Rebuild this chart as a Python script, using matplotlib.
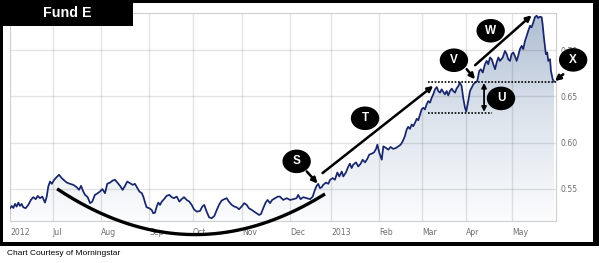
import numpy as np
import matplotlib
matplotlib.use("Agg")
from matplotlib import pyplot as plt
from matplotlib.patches import Ellipse, Rectangle
from matplotlib.colors import LinearSegmentedColormap

# fund price, x = trading-day index since early June 2012
days = [0.0, 0.8, 1.5, 2.3, 3.0, 3.8, 4.5, 5.3, 6.0, 7.1, 8.3, 9.5, 10.6, 11.7, 12.6,
        13.6, 14.7, 15.9, 16.7, 17.4, 18.2, 19.0, 20.1, 21.2, 22.3, 23.5, 24.7, 25.8,
        27.3, 28.8, 30.3, 31.4, 32.3, 33.3, 34.1, 35.3, 36.4, 37.4, 38.6, 39.9, 40.9,
        42.0, 43.2, 44.2, 45.5, 46.7, 47.7, 48.8, 50.0, 51.2, 52.3, 53.3, 54.5, 55.8,
        56.8, 57.9, 58.8, 59.9, 60.6, 61.4, 62.1, 63.3, 64.4, 65.1, 65.9, 66.7, 67.4,
        68.2, 69.0, 70.0, 71.2, 72.4, 73.5, 74.5, 75.8, 77.0, 78.0, 79.1, 80.3, 81.5,
        82.6, 83.6, 84.9, 86.4, 87.4, 88.3, 89.4, 90.5, 91.7, 92.9, 94.0, 95.0, 96.2,
        97.4, 98.5, 99.5, 100.8, 102.0, 103.0, 104.1, 105.3, 106.5, 107.6, 108.6, 109.9,
        111.0, 112.1, 113.2, 114.1, 115.1, 116.2, 117.1, 118.2, 119.2, 120.5, 121.7,
        122.7, 124.2, 125.8, 127.3, 128.8, 130.3, 131.0, 132.1, 133.3, 134.9, 136.4,
        137.6, 138.6, 139.4, 140.1, 140.9, 141.7, 142.4, 143.6, 144.7, 145.5, 146.7,
        147.7, 148.8, 149.7, 150.8, 151.5, 152.7, 153.8, 154.5, 155.3, 156.0, 157.3,
        158.3, 159.4, 160.3, 161.4, 162.4, 163.3, 164.4, 165.5, 166.4, 167.0, 167.9,
        169.0, 169.7, 170.9, 172.0, 173.0, 174.2, 175.5, 176.5, 177.6, 178.5, 179.5,
        180.3, 181.0, 181.8, 182.6, 183.3, 184.1, 184.9, 185.6, 186.4, 187.1, 187.9,
        188.6, 189.4, 190.1, 190.9, 191.7, 192.4, 193.2, 194.0, 194.7, 195.5, 196.2,
        197.0, 197.7, 198.5, 199.2, 200.0, 200.8, 201.5, 202.3, 203.0, 203.8, 204.5,
        205.3, 206.0, 206.8, 207.4, 208.3, 209.1, 209.9, 210.6, 211.4, 212.4, 213.3,
        214.0, 214.9, 215.9, 216.7, 217.4, 218.2, 219.0, 219.7, 220.5, 221.2, 222.0,
        222.7, 224.0, 225.0, 225.8, 226.5, 227.3, 228.0, 228.8, 229.5, 230.3, 231.0,
        231.8, 232.6, 233.3, 234.1, 234.9, 235.6, 236.4, 237.1, 237.9, 238.6, 239.4,
        240.1, 240.9, 241.7, 242.1, 242.7, 243.6, 244.2, 244.7, 245.5, 245.9, 246.7,
        247.3]
nav = [0.5290, 0.5315, 0.5293, 0.5337, 0.5308, 0.5351, 0.5315, 0.5337, 0.5301, 0.5290,
       0.5326, 0.5380, 0.5410, 0.5388, 0.5424, 0.5399, 0.5416, 0.5351, 0.5416, 0.5525,
       0.5579, 0.5554, 0.5598, 0.5627, 0.5652, 0.5616, 0.5590, 0.5568, 0.5554, 0.5543,
       0.5518, 0.5489, 0.5533, 0.5471, 0.5435, 0.5410, 0.5345, 0.5362, 0.5435, 0.5453,
       0.5471, 0.5497, 0.5453, 0.5554, 0.5568, 0.5590, 0.5598, 0.5568, 0.5533, 0.5489,
       0.5533, 0.5579, 0.5562, 0.5543, 0.5554, 0.5508, 0.5471, 0.5453, 0.5416, 0.5351,
       0.5301, 0.5290, 0.5272, 0.5236, 0.5242, 0.5308, 0.5351, 0.5326, 0.5362, 0.5388,
       0.5424, 0.5435, 0.5410, 0.5399, 0.5416, 0.5362, 0.5388, 0.5410, 0.5380, 0.5362,
       0.5326, 0.5279, 0.5253, 0.5261, 0.5308, 0.5326, 0.5253, 0.5192, 0.5182, 0.5207,
       0.5272, 0.5326, 0.5373, 0.5388, 0.5399, 0.5362, 0.5326, 0.5308, 0.5301, 0.5279,
       0.5308, 0.5345, 0.5326, 0.5290, 0.5272, 0.5253, 0.5236, 0.5217, 0.5228, 0.5290,
       0.5351, 0.5380, 0.5345, 0.5380, 0.5399, 0.5416, 0.5416, 0.5380, 0.5399, 0.5380,
       0.5388, 0.5399, 0.5435, 0.5388, 0.5410, 0.5399, 0.5388, 0.5416, 0.5489, 0.5533,
       0.5554, 0.5508, 0.5518, 0.5543, 0.5568, 0.5554, 0.5598, 0.5616, 0.5598, 0.5677,
       0.5634, 0.5688, 0.5634, 0.5677, 0.5742, 0.5772, 0.5725, 0.5761, 0.5786, 0.5742,
       0.5772, 0.5815, 0.5786, 0.5823, 0.5870, 0.5880, 0.5895, 0.5932, 0.5978, 0.5888,
       0.5815, 0.5960, 0.5942, 0.5924, 0.5953, 0.5932, 0.5942, 0.5960, 0.5978, 0.6014,
       0.6069, 0.6141, 0.6171, 0.6149, 0.6196, 0.6177, 0.6214, 0.6258, 0.6242, 0.6304,
       0.6359, 0.6377, 0.6359, 0.6413, 0.6449, 0.6432, 0.6486, 0.6522, 0.6576, 0.6601,
       0.6558, 0.6540, 0.6576, 0.6547, 0.6522, 0.6558, 0.6511, 0.6558, 0.6584, 0.6558,
       0.6540, 0.6584, 0.6612, 0.6649, 0.6612, 0.6486, 0.6380, 0.6337, 0.6449, 0.6558,
       0.6595, 0.6630, 0.6649, 0.6666, 0.6775, 0.6794, 0.6758, 0.6848, 0.6884, 0.6848,
       0.6921, 0.6902, 0.6848, 0.6794, 0.6866, 0.6921, 0.6884, 0.6921, 0.6992, 0.6957,
       0.6902, 0.6884, 0.6957, 0.6975, 0.6938, 0.6884, 0.6938, 0.7011, 0.7047, 0.7011,
       0.7101, 0.7156, 0.7210, 0.7264, 0.7247, 0.7301, 0.7356, 0.7373, 0.7348, 0.7362,
       0.7356, 0.7283, 0.7138, 0.6957, 0.6975, 0.6884, 0.6902, 0.6775, 0.6685, 0.6660]

month_pos = [0, 19.5, 41.4, 63.2, 83.2, 105.5, 127.3, 146.0, 167.7, 187.3, 207.3, 228.2]
month_labels = ["2012", "Jul", "Aug", "Sep", "Oct", "Nov", "Dec", "2013", "Feb", "Mar", "Apr", "May"]
y_ticks = [0.55, 0.60, 0.65, 0.70]
y_labels = ["0.55", "0.60", "0.65", "0.70"]

# annotation bubbles: letter, x, y
bubbles = [("S", 130.3, 0.5797), ("T", 161.4, 0.6263), ("U", 223.2, 0.6478),
           ("V", 201.8, 0.6891), ("W", 218.5, 0.7210), ("X", 256.0, 0.6895)]
# arrows: (x_from, y_from, x_to, y_to)
arrows = [(134.9, 0.5688, 139.8, 0.5557),
          (142.1, 0.5671, 192.4, 0.6614),
          (207.6, 0.6794, 211.4, 0.6685),
          (211.4, 0.6837, 237.1, 0.7377),
          (251.5, 0.6739, 247.7, 0.6666)]
range_top, range_bottom = 0.6658, 0.6321
range_start, range_bottom_end = 190.1, 219.0
u_x = 215.5
# the "rounded bottom" curve: left end, lowest point, right end
bowl = [(21.4, 0.5500), (84.1, 0.5005), (143.2, 0.5446)]

XMIN, XMAX = 0, 248.2
YMIN, YMAX = 0.5152, 0.7402
W, H = 599, 263

fig = plt.figure(figsize=(W / 100, H / 100), dpi=100)
fig.patch.set_facecolor("white")
ax = fig.add_axes([10 / W, 1 - 221 / H, 546 / W, 208 / H])
ax.set_xlim(XMIN, XMAX)
ax.set_ylim(YMIN, YMAX)

# gradient area under the line
cmap = LinearSegmentedColormap.from_list("fade", ["#fbfcfd", "#dde4ed", "#aebdd2"])
grad = np.linspace(0, 1, 256)[:, None]
im = ax.imshow(grad, extent=[XMIN, XMAX, YMIN, YMAX], origin="lower", aspect="auto",
               cmap=cmap, zorder=1)
poly = ax.fill_between(days, nav, YMIN, facecolor="none", edgecolor="none")
im.set_clip_path(poly.get_paths()[0], transform=ax.transData)
ax.set_xlim(XMIN, XMAX)
ax.set_ylim(YMIN, YMAX)

# grid
for p in month_pos[1:]:
    ax.axvline(p, color=(0, 0, 0, 0.11), lw=1, zorder=2)
for t in y_ticks:
    ax.axhline(t, color=(0, 0, 0, 0.11), lw=1, zorder=2)

ax.plot(days, nav, color="#17256b", lw=1.25, zorder=3)

for s in ax.spines.values():
    s.set_color("#cfcfcf")
ax.set_xticks(month_pos)
ax.set_xticklabels(month_labels, ha="left")
ax.set_yticks(y_ticks)
ax.set_yticklabels(y_labels)
ax.yaxis.tick_right()
ax.tick_params(axis="both", length=0, labelsize=5.6, labelcolor="#6f6f6f")
ax.tick_params(axis="x", pad=5)
ax.tick_params(axis="y", pad=3)

# bowl curve
(xl, yl), (xv, yv), (xr, yr) = bowl
a = (yl - yv) / (xl - xv) ** 2
bx = np.linspace(xl, xr, 200)
ax.plot(bx, yv + a * (bx - xv) ** 2, color="black", lw=2.4, zorder=6, clip_on=False,
        solid_capstyle="butt")

# dotted range lines and the U arrow
ax.plot([range_start, XMAX], [range_top, range_top], color="black", lw=1.2,
        ls=(0, (1, 1)), zorder=5, clip_on=False)
ax.plot([range_start, range_bottom_end], [range_bottom, range_bottom], color="black",
        lw=1.2, ls=(0, (1, 1)), zorder=5)
ax.annotate("", xy=(u_x, range_bottom + 0.0012), xytext=(u_x, range_top - 0.0012),
            arrowprops=dict(arrowstyle="<|-|>", color="black", lw=1.3, mutation_scale=7,
                            shrinkA=0, shrinkB=0), zorder=6)

for x0, y0, x1, y1 in arrows:
    ax.annotate("", xy=(x1, y1), xytext=(x0, y0), annotation_clip=False,
                arrowprops=dict(arrowstyle="-|>", color="black", lw=1.8, mutation_scale=8,
                                shrinkA=0, shrinkB=0), zorder=6)

for letter, bx0, by0 in bubbles:
    e = Ellipse((bx0, by0), width=12.9, height=0.0255, facecolor="black",
                edgecolor="none", zorder=8, clip_on=False)
    ax.add_patch(e)
    ax.text(bx0, by0, letter, color="white", fontsize=8.5, fontweight="bold",
            family="Liberation Sans", ha="center", va="center", zorder=9)

# outer frame and title tab
def band(x, y, w, h):
    fig.patches.append(Rectangle((x / W, 1 - (y + h) / H), w / W, h / H,
                                 transform=fig.transFigure, facecolor="black",
                                 edgecolor="none", zorder=10))

band(0, 0, W, 3)
band(0, 0, 3, 245)
band(593, 0, 6, 245)
band(0, 242, W, 4)
band(0, 0, 133, 25.5)
fig.text(67 / W, 1 - 12.8 / H, "Fund E", color="white", fontsize=10.3, fontweight="bold",
         family="Liberation Sans", ha="center", va="center", zorder=11)
fig.text(7 / W, 1 - 253.5 / H, "Chart Courtesy of Morningstar", color="black",
         fontsize=6, family="Liberation Sans", ha="left", va="center")

fig.savefig("out.png", dpi=100)
